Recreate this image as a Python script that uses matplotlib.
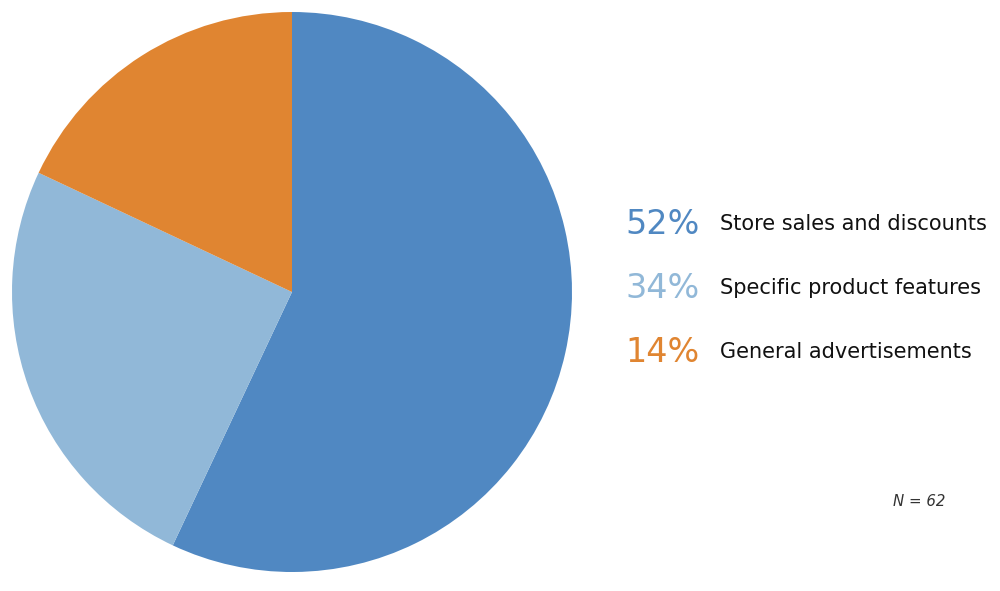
import matplotlib
matplotlib.use('Agg')
import matplotlib.pyplot as plt

# slice shares as drawn in the pie
slice_shares = [57, 25, 18]
# percentages printed next to the labels
label_pcts = [52, 34, 14]
labels = ['Store sales and discounts', 'Specific product features', 'General advertisements']
colors = ['#5088c2', '#91b8d8', '#e08531']
n_total = 62

plt.rcParams['font.family'] = ['DejaVu Sans']

fig = plt.figure(figsize=(10, 5.91), dpi=100)

# pie: centre at (292, 292) px, radius 280 px
ax = fig.add_axes([0.012, 19 / 591, 0.56, 560 / 591])
ax.pie(slice_shares, colors=colors, startangle=90, counterclock=False,
       radius=1, wedgeprops={'linewidth': 0})
ax.set_xlim(-1, 1)
ax.set_ylim(-1, 1)
ax.set_aspect('equal')
ax.axis('off')

# legend-like text block
row_y = [224, 288, 352]
for pct, lab, col, y in zip(label_pcts, labels, colors, row_y):
    fy = 1 - y / 591
    fig.text(0.625, fy, f'{pct}%', color=col, fontsize=24, va='center', ha='left')
    fig.text(0.720, fy, lab, color='#111111', fontsize=15, va='center', ha='left')

fig.text(0.945, 1 - 502 / 591, f'N = {n_total}', color='#333333', fontsize=10.8,
         style='italic', ha='right', va='center')

fig.savefig('out.png', dpi=100, facecolor='white')
